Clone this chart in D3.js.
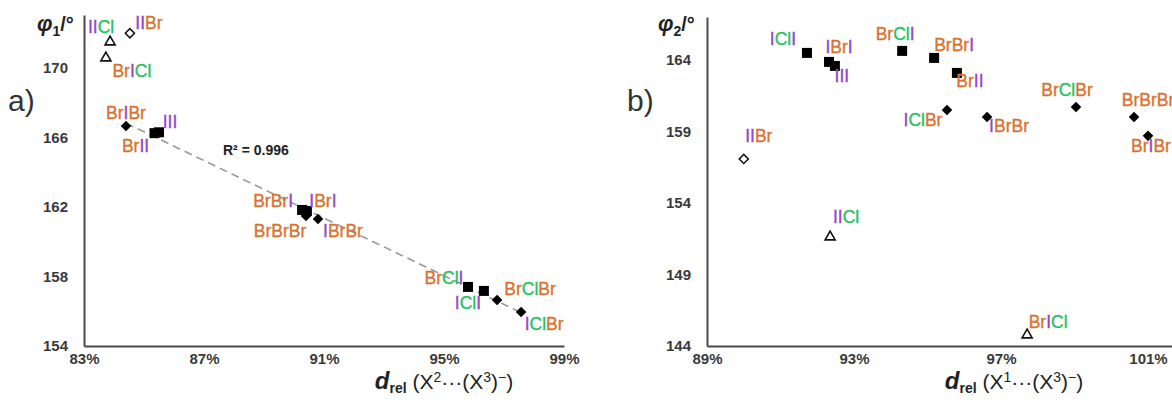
<!DOCTYPE html>
<html><head><meta charset="utf-8">
<script src="https://cdn.jsdelivr.net/npm/d3@7/dist/d3.min.js"></script>
<style>html,body{margin:0;padding:0;background:#fff;}svg{display:block;font-family:"Liberation Sans",Arial,sans-serif;}</style>
</head><body>
<script>
// ---------- data ----------
const leftNames = ["IICl","BrICl","IIBr","BrIBr","BrII","III","BrBrI","IBrI","BrBrBr","IBrBr","BrClI","IClI","BrClBr","IClBr"];
const leftX = [83.87, 83.73, 84.53, 84.40, 85.35, 85.50, 90.27, 90.43, 90.40, 90.80, 95.80, 96.33, 96.77, 97.57];
const leftY = [171.5, 170.58, 172.0, 166.66, 166.25, 166.3, 161.83, 161.77, 161.48, 161.31, 157.4, 157.17, 156.65, 155.96];
const leftType = ["tri","tri","odia","dia","sq","sq","sq","sq","dia","dia","sq","sq","dia","dia"];

const rightNames = ["IClI","IBrI","III","BrClI","IIBr","BrBrI","BrII","IClBr","IBrBr","BrClBr","BrBrBr","BrIBr","IICl","BrICl"];
const rightX = [91.72, 92.32, 92.48, 94.31, 90.00, 95.18, 95.80, 95.53, 96.62, 99.04, 100.62, 101.0, 92.35, 97.71];
const rightY = [164.49, 163.86, 163.58, 164.63, 157.08, 164.14, 163.09, 160.5, 160.01, 160.71, 160.01, 158.69, 151.62, 144.77];
const rightType = ["sq","sq","sq","sq","odia","sq","sq","dia","dia","dia","dia","dia","tri","tri"];

const leftXTicks = [83, 87, 91, 95, 99];
const leftYTicks = [154, 158, 162, 166, 170];
const rightXTicks = [89, 93, 97, 101];
const rightYTicks = [144, 149, 154, 159, 164];
const r2Text = "R² = 0.996";

// ---------- layout (label offsets in px) ----------
const leftOff = {IICl:[-9,-15],BrICl:[26,13],IIBr:[19,-11],BrIBr:[0,-13],BrII:[-19,13],III:[11,-11],
  BrBrI:[-29,-9],IBrI:[16,-10],BrBrBr:[-26,15],IBrBr:[25,12],BrClI:[-24,-9],IClI:[-16,12],BrClBr:[33,-11],IClBr:[23,12]};
const rightOff = {IClI:[-24,-14],IBrI:[10,-15],III:[7,10],BrClI:[-7,-17],IIBr:[15,-23],BrBrI:[20,-13],BrII:[13,8],
  IClBr:[-24,10],IBrBr:[22,9],BrClBr:[-9,-17],BrBrBr:[14,-17],BrIBr:[3,10],IICl:[16,-20],BrICl:[21,-13]};
const atomColor = {Br:"#D9722F", I:"#9547C8", Cl:"#25C25F"};

const W = 1172, H = 405;
const svg = d3.select("body").append("svg").attr("width", W).attr("height", H);
svg.append("rect").attr("width", W).attr("height", H).attr("fill", "#fff");

function panel(cfg) {
  const x = d3.scaleLinear().domain(cfg.xDomain).range(cfg.xRange);
  const y = d3.scaleLinear().domain(cfg.yDomain).range(cfg.yRange);
  const g = svg.append("g");
  // axes
  const xAxis = d3.axisBottom(x).tickValues(cfg.xTicks).tickSize(0).tickPadding(7).tickFormat(d => d + "%");
  const gx = g.append("g").attr("transform", `translate(0,${cfg.yRange[0]})`).call(xAxis);
  const yAxis = d3.axisLeft(y).tickValues(cfg.yTicks).tickSize(0).tickPadding(16).tickFormat(d3.format("d"));
  const gy = g.append("g").attr("transform", `translate(${cfg.xRange[0]},0)`).call(yAxis);
  [gx, gy].forEach(a => {
    a.select(".domain").attr("stroke", "#4a4a4a").attr("stroke-width", 2);
    a.selectAll("text").attr("font-size", 15).attr("font-weight", "bold").attr("fill", "#3a3a3a")
      .attr("font-family", "'Liberation Sans', Arial, sans-serif");
  });

  // trendline
  if (cfg.trend) {
    const idx = cfg.types.map((t, i) => i).filter(i => cfg.types[i] === "sq" || cfg.types[i] === "dia");
    const xs = idx.map(i => cfg.xs[i]), ys = idx.map(i => cfg.ys[i]);
    const mx = d3.mean(xs), my = d3.mean(ys);
    const b = d3.sum(xs.map((v, k) => (v - mx) * (ys[k] - my))) / d3.sum(xs.map(v => (v - mx) ** 2));
    const a0 = my - b * mx;
    const x0 = d3.min(xs), x1 = d3.max(xs);
    g.append("line").attr("x1", x(x0)).attr("y1", y(a0 + b * x0)).attr("x2", x(x1)).attr("y2", y(a0 + b * x1))
      .attr("stroke", "#9a9a9a").attr("stroke-width", 1.6).attr("stroke-dasharray", "8,5");
  }

  // markers
  const sq = d3.symbol().type(d3.symbolSquare).size(100)();
  const dia = d3.symbol().type(d3.symbolSquare).size(56)();
  const odia = d3.symbol().type(d3.symbolSquare).size(42)();
  const tri = d3.symbol().type(d3.symbolTriangle).size(44)();
  cfg.names.forEach((n, i) => {
    const px = x(cfg.xs[i]), py = y(cfg.ys[i]);
    const t = cfg.types[i];
    const p = g.append("path").attr("transform", `translate(${px},${py})` + (t === "dia" || t === "odia" ? " rotate(45)" : ""));
    if (t === "sq") p.attr("d", sq).attr("fill", "#000");
    else if (t === "dia") p.attr("d", dia).attr("fill", "#000");
    else if (t === "odia") p.attr("d", odia).attr("fill", "#fff").attr("stroke", "#111").attr("stroke-width", 1.5);
    else p.attr("d", tri).attr("fill", "#fff").attr("stroke", "#111").attr("stroke-width", 1.6);
  });
  // labels
  cfg.names.forEach((n, i) => {
    const px = x(cfg.xs[i]), py = y(cfg.ys[i]);
    const o = cfg.off[n];
    const txt = g.append("text").attr("x", px + o[0]).attr("y", py + o[1]).attr("dy", "0.36em")
      .attr("text-anchor", "middle").attr("font-size", 17.5).attr("font-family", "'Liberation Sans', Arial, sans-serif");
    (n.match(/Br|Cl|I/g)).forEach(at => txt.append("tspan").attr("fill", atomColor[at])
      .attr("stroke", atomColor[at]).attr("stroke-width", 0.35).text(at));
  });

  // axis titles
  const yt = g.append("text").attr("x", cfg.yTitleX).attr("y", 31).attr("fill", "#222")
    .attr("font-weight", "bold").attr("font-size", 20);
  yt.append("tspan").attr("font-style", "italic").attr("font-size", 22).text("φ");
  yt.append("tspan").attr("font-size", 14).attr("dy", 5).text(cfg.phiSub);
  yt.append("tspan").attr("dy", -5).text("/°");

  const xt = g.append("text").attr("x", cfg.xTitleX).attr("y", 389).attr("text-anchor", "middle").attr("fill", "#222")
    .attr("font-size", 21);
  xt.append("tspan").attr("font-weight", "bold").attr("font-style", "italic").attr("font-size", 24).text("d");
  xt.append("tspan").attr("font-weight", "bold").attr("font-size", 14).attr("dy", 4).text("rel");
  xt.append("tspan").attr("dy", -4).text(" (X");
  xt.append("tspan").attr("font-size", 14).attr("dy", -7).text(cfg.xSup);
  xt.append("tspan").attr("dy", 7).text("···(X");
  xt.append("tspan").attr("font-size", 14).attr("dy", -7).text("3");
  xt.append("tspan").attr("dy", 7).text(")");
  xt.append("tspan").attr("font-size", 14).attr("dy", -7).text("−");
  xt.append("tspan").attr("dy", 7).text(")");

  // panel letter
  svg.append("text").attr("x", cfg.letterX).attr("y", 111).attr("font-size", 30).attr("fill", "#333").text(cfg.letter);
  return {x, y, g};
}

const L = panel({
  names: leftNames, xs: leftX, ys: leftY, types: leftType, off: leftOff,
  xDomain: [83, 99], xRange: [84, 564], yDomain: [154, 173.05], yRange: [346, 15],
  xTicks: leftXTicks, yTicks: leftYTicks, trend: true,
  yTitleX: 37, phiSub: "1", xTitleX: 444, xSup: "2", letter: "a)", letterX: 8
});
L.g.append("text").attr("x", 223).attr("y", 155).attr("font-size", 14).attr("font-weight", "bold").attr("fill", "#222").text(r2Text);

panel({
  names: rightNames, xs: rightX, ys: rightY, types: rightType, off: rightOff,
  xDomain: [89, 101.68], xRange: [707, 1173], yDomain: [144, 167], yRange: [346, 17],
  xTicks: rightXTicks, yTicks: rightYTicks, trend: false,
  yTitleX: 658, phiSub: "2", xTitleX: 1014, xSup: "1", letter: "b)", letterX: 627
});
</script>
</body></html>
